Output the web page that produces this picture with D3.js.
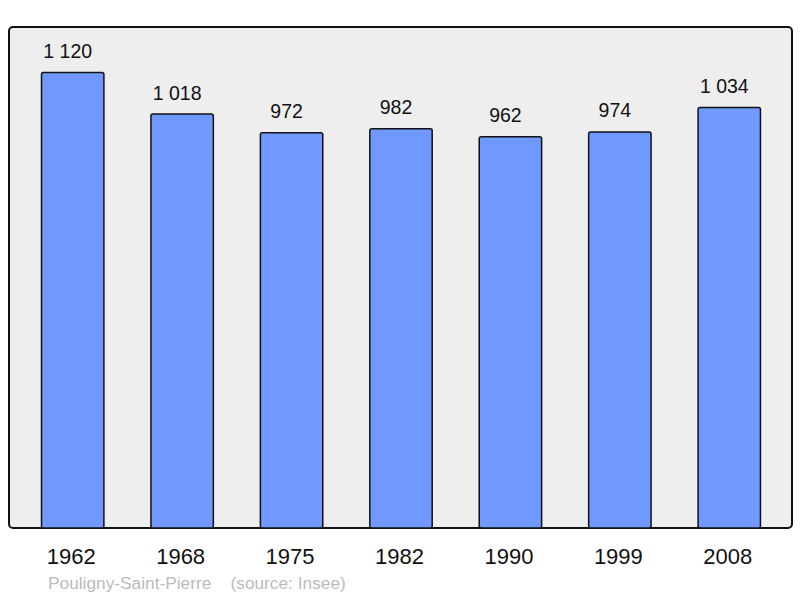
<!DOCTYPE html>
<html>
<head>
<meta charset="utf-8">
<script src="https://cdn.jsdelivr.net/npm/d3@7"></script>
<style>
  body { margin: 0; background: #fff; }
  text { font-family: "Liberation Sans", Arial, sans-serif; }
</style>
</head>
<body>
<div id="chart"></div>
<script>
const years = ["1962", "1968", "1975", "1982", "1990", "1999", "2008"];
const population = [1120, 1018, 972, 982, 962, 974, 1034];
const valueLabels = ["1 120", "1 018", "972", "982", "962", "974", "1 034"];

const width = 800;
const height = 598;
const frame = { left: 9, top: 27, right: 792, bottom: 528 };

const svg = d3.select("#chart")
    .append("svg")
    .attr("width", width)
    .attr("height", height);

svg.append("rect")
    .attr("x", frame.left)
    .attr("y", frame.top)
    .attr("width", frame.right - frame.left)
    .attr("height", frame.bottom - frame.top)
    .attr("rx", 4)
    .attr("fill", "#eeeeee")
    .attr("stroke", "#111")
    .attr("stroke-width", 2);

const x = d3.scaleBand()
    .domain(years)
    .range([18, 784])
    .paddingInner(0.43)
    .paddingOuter(0.215);

const y = d3.scaleLinear()
    .domain([0, 1232])
    .range([frame.bottom, frame.top]);

svg.append("g")
    .selectAll("rect")
    .data(population)
    .enter().append("rect")
    .attr("x", (d, i) => x(years[i]))
    .attr("y", d => y(d))
    .attr("width", x.bandwidth())
    .attr("height", d => y(0) - y(d))
    .attr("rx", 2)
    .attr("fill", "#7099ff")
    .attr("stroke", "#111")
    .attr("stroke-width", 1.5);

// value labels sit a little left of the bar centre in the original
svg.append("g")
    .selectAll("text")
    .data(population)
    .enter().append("text")
    .attr("x", (d, i) => x(years[i]) + x.bandwidth() / 2 - 5)
    .attr("y", d => y(d) - 14.5)
    .attr("text-anchor", "middle")
    .attr("font-size", 19.5)
    .attr("fill", "#111")
    .text((d, i) => valueLabels[i]);

svg.append("g")
    .selectAll("text")
    .data(years)
    .enter().append("text")
    .attr("x", d => x(d) + x.bandwidth() / 2 - 1.5)
    .attr("y", 564)
    .attr("text-anchor", "middle")
    .attr("font-size", 22)
    .attr("fill", "#111")
    .text(d => d);

svg.append("text")
    .attr("x", 48)
    .attr("y", 589)
    .attr("font-size", 17.3)
    .attr("fill", "#bbbbbb")
    .attr("xml:space", "preserve")
    .text("Pouligny-Saint-Pierre    (source: Insee)");
</script>
</body>
</html>
